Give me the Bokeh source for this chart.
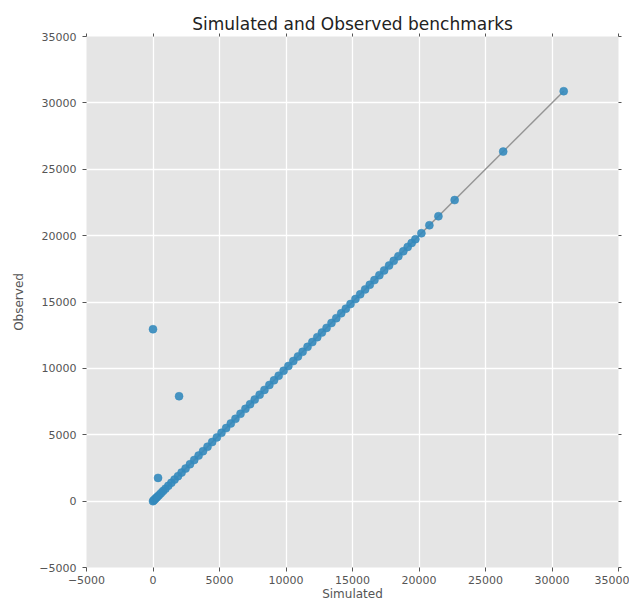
from bokeh.plotting import figure
from bokeh.models import LinearAxis, FixedTicker, CustomJSTickFormatter, ColumnDataSource
from bokeh.embed import file_html
from bokeh.resources import INLINE

# ---- data ----
simulated = [0, 60, 140, 230, 330, 450, 600, 760, 940, 1150, 1380, 1620, 1880, 2150,
             2450, 2780, 3100, 3430, 3760, 4100, 4450, 4800, 5150, 5500, 5850, 6200,
             6580, 6950, 7300, 7650, 8020, 8380, 8750, 9100, 9450, 9820, 10180, 10550,
             10900, 11250, 11620, 11980, 12350, 12700, 13050, 13420, 13780, 14150,
             14500, 14850, 15220, 15580, 15950, 16300, 16650, 17020, 17380, 17750,
             18100, 18450, 18820, 19150, 19450, 19730, 20180, 20780, 21460, 22680,
             26330, 30880,
             0, 1960, 380]
observed = [0, 60, 140, 230, 330, 450, 600, 760, 940, 1150, 1380, 1620, 1880, 2150,
            2450, 2780, 3100, 3430, 3760, 4100, 4450, 4800, 5150, 5500, 5850, 6200,
            6580, 6950, 7300, 7650, 8020, 8380, 8750, 9100, 9450, 9820, 10180, 10550,
            10900, 11250, 11620, 11980, 12350, 12700, 13050, 13420, 13780, 14150,
            14500, 14850, 15220, 15580, 15950, 16300, 16650, 17020, 17380, 17750,
            18100, 18450, 18820, 19150, 19450, 19730, 20180, 20780, 21460, 22680,
            26330, 30880,
            12950, 7900, 1750]
ref_line = [0, 30880]
ticks = [-5000, 0, 5000, 10000, 15000, 20000, 25000, 30000, 35000]
axis_min, axis_max = -5000, 35000

p = figure(width=629, height=603, output_backend="svg", toolbar_location=None,
           x_range=(axis_min, axis_max), y_range=(axis_min, axis_max),
           title="Simulated and Observed benchmarks",
           min_border_left=86, min_border_right=11, min_border_top=36, min_border_bottom=36,
           x_axis_label="Simulated", y_axis_label="Observed")
p.background_fill_color = "#E5E5E5"
p.border_fill_color = "white"
p.outline_line_color = None

p.title.align = "center"
p.title.text_font = "DejaVu Sans"
p.title.text_font_size = "17px"
p.title.text_font_style = "normal"
p.title.text_color = "#222222"
p.title.standoff = 0

for ax in (p.xaxis[0], p.yaxis[0]):
    ax.ticker = FixedTicker(ticks=ticks)
    ax.axis_line_color = None
    ax.major_tick_line_color = "#555555"
    ax.major_tick_out = 4
    ax.major_tick_in = 0
    ax.minor_tick_line_color = None
    ax.major_label_text_font = "DejaVu Sans"
    ax.major_label_text_font_size = "11px"
    ax.major_label_text_color = "#555555"
    ax.axis_label_text_font = "DejaVu Sans"
    ax.axis_label_text_font_size = "12px"
    ax.axis_label_text_font_style = "normal"
    ax.axis_label_text_color = "#555555"
p.xaxis[0].major_label_standoff = 4
p.yaxis[0].major_label_standoff = 6
p.xaxis[0].axis_label_standoff = 0
p.yaxis[0].axis_label_standoff = 10

for loc in ("right", "above"):
    ax = LinearAxis(ticker=FixedTicker(ticks=ticks),
                    formatter=CustomJSTickFormatter(code="return ''"))
    ax.axis_line_color = None
    ax.major_tick_line_color = "#555555"
    ax.major_tick_out = 3
    ax.major_tick_in = 0
    ax.minor_tick_line_color = None
    ax.major_label_standoff = 0
    ax.major_label_text_font_size = "1px"
    p.add_layout(ax, loc)

p.xgrid.ticker = FixedTicker(ticks=ticks)
p.ygrid.ticker = FixedTicker(ticks=ticks)
p.grid.grid_line_color = "white"
p.grid.grid_line_width = 1.3

p.line(ref_line, ref_line, line_color="#8c8c8c", line_width=1.5, line_alpha=0.9)
src = ColumnDataSource(dict(x=simulated, y=observed))
p.scatter("x", "y", source=src, size=8, fill_color="#348ABD", line_color="#348ABD",
          line_width=0.5, fill_alpha=0.9)

open("out.html", "w").write(file_html(p, INLINE))
